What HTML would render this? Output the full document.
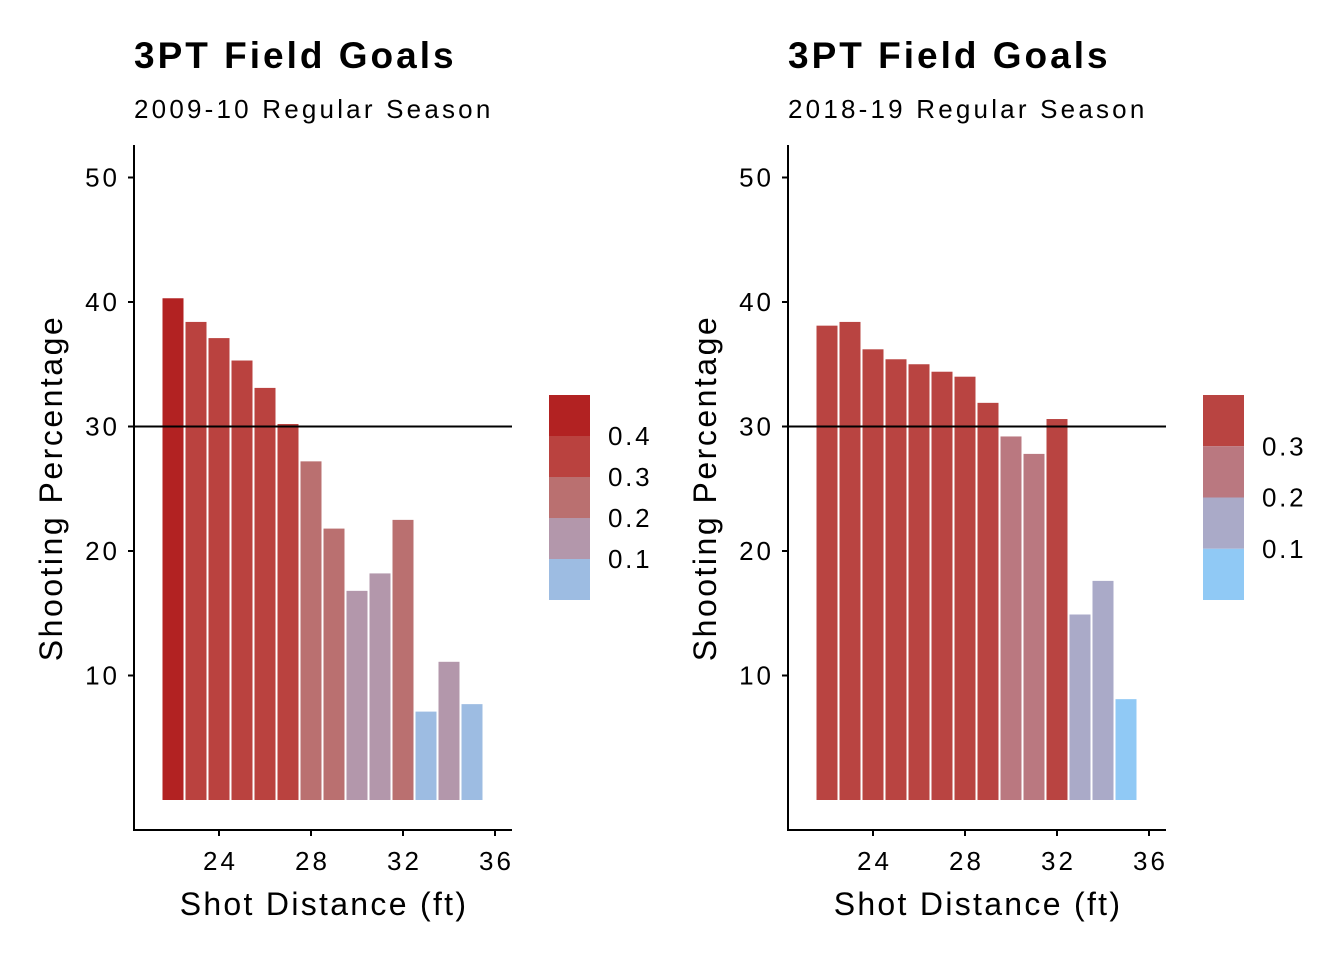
<!DOCTYPE html>
<html><head><meta charset="utf-8"><style>
body{margin:0;background:#fff;}
svg{display:block;font-family:"Liberation Sans",Arial,sans-serif;}
</style></head><body>
<svg id="chart" width="1344" height="960"></svg>
<script>
const distances=[22,23,24,25,26,27,28,29,30,31,32,33,34,35];
const pct2009=[40.3,38.4,37.1,35.3,33.1,30.2,27.2,21.8,16.8,18.2,22.5,7.1,11.1,7.7];
const pct2018=[38.1,38.4,36.2,35.4,35.0,34.4,34.0,31.9,29.2,27.8,30.6,14.9,17.6,8.1];
const xTicks=[24,28,32,36];
const yTicks=[10,20,30,40,50];
const legend2009=["0.4","0.3","0.2","0.1"];
const legend2018=["0.3","0.2","0.1"];
const NS="http://www.w3.org/2000/svg";
const svg=document.getElementById('chart');
function el(tag,attrs,parent,text){const e=document.createElementNS(NS,tag);for(const k in attrs)e.setAttribute(k,attrs[k]);if(text!==undefined)e.textContent=text;(parent||svg).appendChild(e);return e;}
function yScale(v){return 800-v*12.45;}
function color09(v){return v>=40?"#B22222":v>=30?"#BA423F":v>=20?"#BA7070":v>=10?"#B397AB":"#9DBCE2";}
function color18(v){return v>=30?"#B94441":v>=20?"#BA7880":v>=10?"#AAAAC8":"#90C9F5";}
function panel(ox,name,sub,data,colorFn,legColors,legLabels,legBlock){
  const g=el('g',{},svg);
  
  
  const xS=d=>ox+85+(d-24)*23;
  let t=el('text',{x:ox,y:68,'font-size':37,'font-weight':'bold','letter-spacing':3},g,'3PT Field Goals');
  
  t=el('text',{x:ox,y:118,'font-size':26,'letter-spacing':3.2},g,sub);
  
  data.forEach((v,i)=>{
    const r=el('rect',{x:xS(distances[i])-10.5,y:yScale(v),width:21,height:800-yScale(v),fill:colorFn(v)},g);
    
    
  });
  let l=el('line',{x1:ox,x2:ox+378,y1:yScale(30),y2:yScale(30),stroke:'#000','stroke-width':2},g);
  
  l=el('line',{x1:ox,x2:ox,y1:145,y2:831,stroke:'#000','stroke-width':2},g);
  
  l=el('line',{x1:ox,x2:ox+378,y1:830,y2:830,stroke:'#000','stroke-width':2},g);
  
  yTicks.forEach(v=>{
    el('line',{x1:ox-6,x2:ox,y1:yScale(v),y2:yScale(v),stroke:'#000','stroke-width':2},g);
    const tt=el('text',{x:ox-14,y:yScale(v)+9,'font-size':26,'letter-spacing':3,'text-anchor':'end'},g,v);
    
  });
  xTicks.forEach(v=>{
    el('line',{x1:xS(v),x2:xS(v),y1:830,y2:836,stroke:'#000','stroke-width':2},g);
    const tt=el('text',{x:xS(v)+1.5,y:870,'font-size':26,'letter-spacing':3,'text-anchor':'middle'},g,v);
    
  });
  t=el('text',{x:ox+190,y:915,'font-size':32,'letter-spacing':2.3,'text-anchor':'middle'},g,'Shot Distance (ft)');
  
  t=el('text',{x:0,y:0,'font-size':32,'letter-spacing':2.5,'text-anchor':'middle',transform:`translate(${ox-72},488) rotate(-90)`},g,'Shooting Percentage');
  
  const lx=ox+415;
  legColors.forEach((c,i)=>{
    const r=el('rect',{x:lx,y:395+i*legBlock,width:41,height:legBlock,fill:c},g);
    
  });
  legLabels.forEach((s,i)=>{
    const tt=el('text',{x:lx+59,y:395+(i+1)*legBlock+9,'font-size':26,'letter-spacing':2.7},g,s);
    
  });
}
panel(134,'season-2009','2009-10 Regular Season',pct2009,color09,["#B22222","#BA423F","#BA7070","#B397AB","#9DBCE2"],legend2009,41);
panel(788,'season-2018','2018-19 Regular Season',pct2018,color18,["#B94441","#BA7880","#AAAAC8","#90C9F5"],legend2018,51.25);
</script>
</body></html>
